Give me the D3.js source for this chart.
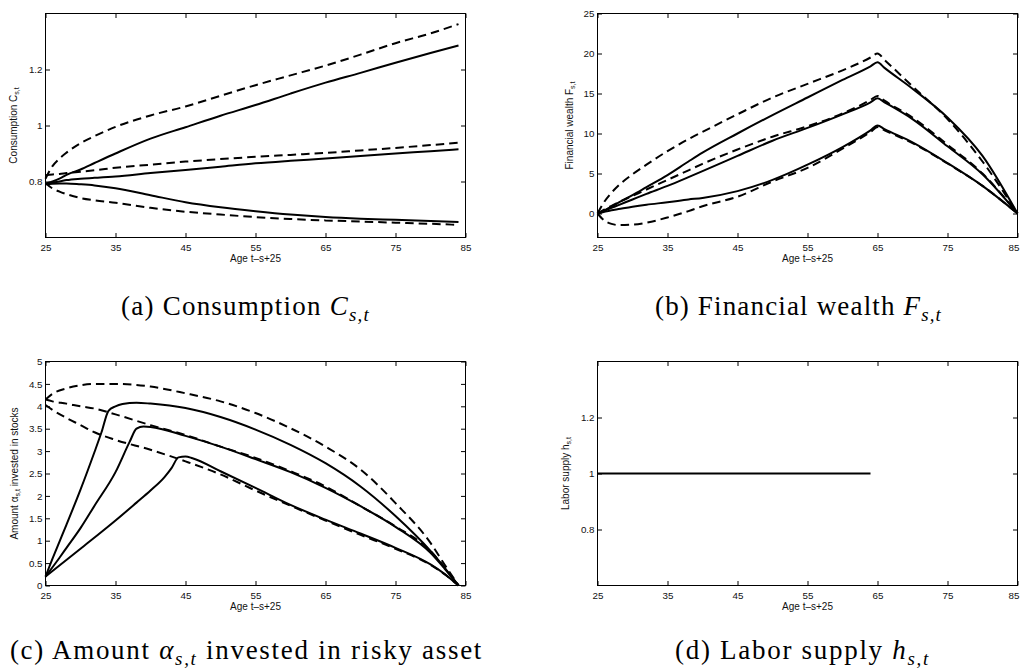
<!DOCTYPE html>
<html>
<head>
<meta charset="utf-8">
<script src="https://cdn.jsdelivr.net/npm/d3@7/dist/d3.min.js"></script>
<style>
  html, body { margin: 0; padding: 0; background: #fff; }
  svg { display: block; }
</style>
</head>
<body>
<svg id="fig" width="1021" height="669"></svg>
<script>
// ---------------- data ----------------
const ageTicks = [25, 35, 45, 55, 65, 75, 85];
const consTicks = [0.8, 1, 1.2];
const wealthTicks = [0, 5, 10, 15, 20, 25];
const stockTicks = [0, 0.5, 1, 1.5, 2, 2.5, 3, 3.5, 4, 4.5, 5];
const laborTicks = [0.8, 1, 1.2];

// (a) consumption
const consAge        = [25, 26, 27, 28, 30, 32, 35, 40, 45, 50, 55, 60, 65, 70, 75, 80, 84];
const consUpperDash  = [0.81, 0.855, 0.882, 0.903, 0.937, 0.962, 0.995, 1.036, 1.068, 1.106, 1.144, 1.179, 1.214, 1.253, 1.294, 1.329, 1.362];
const consUpperSolid = [0.792, 0.8, 0.81, 0.824, 0.843, 0.866, 0.9, 0.953, 0.994, 1.035, 1.073, 1.114, 1.153, 1.188, 1.224, 1.259, 1.286];
const consMidDash    = [0.822, 0.825, 0.827, 0.83, 0.835, 0.84, 0.849, 0.86, 0.871, 0.88, 0.888, 0.895, 0.902, 0.911, 0.92, 0.93, 0.939];
const consMidSolid   = [0.79, 0.796, 0.8, 0.805, 0.81, 0.813, 0.818, 0.83, 0.841, 0.853, 0.865, 0.874, 0.882, 0.891, 0.9, 0.908, 0.915];
const consLowSolid   = [0.79, 0.792, 0.793, 0.793, 0.79, 0.786, 0.776, 0.751, 0.726, 0.708, 0.694, 0.682, 0.673, 0.667, 0.663, 0.659, 0.655];
const consLowDash    = [0.795, 0.775, 0.764, 0.755, 0.741, 0.733, 0.724, 0.706, 0.692, 0.682, 0.673, 0.666, 0.661, 0.657, 0.653, 0.649, 0.645];

// (b) financial wealth
const wealthAge        = [25, 26, 27, 28, 30, 32, 35, 38, 40, 45, 50, 55, 60, 64, 65, 66, 70, 75, 80, 85];
const wealthUpperDash  = [0, 1.5, 2.6, 3.5, 4.9, 6.1, 7.8, 9.3, 10.2, 12.4, 14.5, 16.2, 17.9, 19.5, 20.0, 19.2, 15.9, 11.8, 6.5, 0];
const wealthUpperSolid = [0, 0.4, 0.85, 1.35, 2.3, 3.3, 4.8, 6.5, 7.6, 10.0, 12.3, 14.5, 16.7, 18.4, 18.9, 18.2, 15.6, 12.0, 7.2, 0];
const wealthMidDash    = [0, 0.5, 0.95, 1.4, 2.2, 3.0, 4.2, 5.4, 6.2, 8.0, 9.6, 10.9, 12.5, 14.2, 14.7, 14.1, 12.0, 8.6, 5.0, 0];
const wealthMidSolid   = [0, 0.35, 0.7, 1.05, 1.75, 2.45, 3.45, 4.55, 5.3, 7.2, 9.1, 10.7, 12.4, 13.9, 14.4, 13.9, 11.8, 8.4, 4.9, 0];
const wealthLowSolid   = [0, 0.2, 0.4, 0.55, 0.85, 1.1, 1.4, 1.75, 1.95, 2.8, 4.2, 6.1, 8.3, 10.4, 11.0, 10.55, 8.9, 6.3, 3.45, 0];
const wealthLowDash    = [0, -0.9, -1.3, -1.45, -1.4, -1.15, -0.5, 0.3, 0.9, 2.1, 4.0, 5.7, 8.1, 10.2, 10.8, 10.4, 8.8, 6.25, 3.45, 0];

// (c) amount invested in stocks
const stockDashAge    = [25, 26, 28, 30, 32, 35, 40, 45, 50, 55, 60, 65, 70, 75, 80, 82, 84];
const stockUpperDash  = [4.15, 4.28, 4.4, 4.47, 4.5, 4.5, 4.44, 4.29, 4.11, 3.85, 3.51, 3.1, 2.59, 1.84, 0.95, 0.47, 0];
const stockMidDash    = [4.15, 4.11, 4.06, 4.0, 3.95, 3.82, 3.58, 3.36, 3.1, 2.85, 2.55, 2.21, 1.77, 1.32, 0.77, 0.41, 0];
const stockLowDash    = [4.03, 3.92, 3.74, 3.58, 3.42, 3.25, 3.03, 2.77, 2.48, 2.12, 1.78, 1.45, 1.13, 0.82, 0.46, 0.25, 0];

const stockUpperSolidAge = [25, 26, 27, 28, 30, 32, 33, 34, 35, 36, 38, 40, 45, 50, 55, 60, 65, 70, 75, 80, 82, 84];
const stockUpperSolid    = [0.2, 0.6, 0.98, 1.36, 2.14, 2.98, 3.42, 3.9, 4.0, 4.05, 4.08, 4.06, 3.96, 3.76, 3.48, 3.14, 2.73, 2.21, 1.55, 0.77, 0.4, 0];
const stockMidSolidAge   = [25, 27, 28, 30, 32, 35, 37, 38, 39, 40, 45, 50, 55, 60, 65, 70, 75, 80, 82, 84];
const stockMidSolid      = [0.2, 0.62, 0.84, 1.28, 1.78, 2.53, 3.2, 3.5, 3.55, 3.54, 3.34, 3.1, 2.82, 2.53, 2.18, 1.77, 1.31, 0.73, 0.38, 0];
const stockLowSolidAge   = [25, 30, 35, 38, 40, 42, 43, 44, 45, 46, 50, 55, 60, 65, 70, 75, 80, 82, 84];
const stockLowSolid      = [0.2, 0.82, 1.45, 1.85, 2.12, 2.42, 2.62, 2.86, 2.88, 2.84, 2.55, 2.18, 1.8, 1.47, 1.16, 0.84, 0.47, 0.26, 0];

// (d) labor supply
const laborAge = [25, 64];
const laborSupply = [1, 1];

// ---------------- drawing ----------------
const svg = d3.select("#fig");
svg.append("rect").attr("width", 1021).attr("height", 669).attr("fill", "#fff");

const TICK_FONT = "'Liberation Sans', Arial, Helvetica, sans-serif";
const CAP_FONT = "'Liberation Serif', 'Times New Roman', serif";
const FIG_WIDTH = 1021;

function zip(xs, ys) { return xs.map((a, i) => [a, ys[i]]); }

function drawPanel(p) {
  const g = svg.append("g").attr("transform", `translate(${p.left},${p.top})`);
  const x = d3.scaleLinear().domain([25, 85]).range([0, p.width]);
  const y = d3.scaleLinear().domain(p.yDomain).range([p.height, 0]);
  const fmt = d3.format("~g");
  const tk = -4.5;

  const styleAxis = sel => {
    sel.select(".domain").remove();
    sel.selectAll(".tick line").attr("stroke", "#000").attr("stroke-width", 1);
    sel.selectAll(".tick text").attr("fill", "#111")
      .style("font-family", TICK_FONT).style("font-size", "9.8px");
  };

  const bottom = g.append("g").attr("transform", `translate(0,${p.height})`)
    .call(d3.axisBottom(x).tickValues(ageTicks).tickSize(tk).tickSizeOuter(0).tickPadding(6.5).tickFormat(d3.format("d")))
    .call(styleAxis);
  // keep the last age label inside the figure edge
  bottom.selectAll(".tick text").each(function () {
    const bb = this.getBBox();
    const tr = this.parentNode.transform.baseVal.consolidate().matrix.e;
    const rightEdge = p.left + tr + bb.x + bb.width;
    if (rightEdge > FIG_WIDTH - 1) {
      d3.select(this).attr("x", -(rightEdge - (FIG_WIDTH - 1)));
    }
  });

  g.append("g")
    .call(d3.axisTop(x).tickValues(ageTicks).tickSize(tk).tickSizeOuter(0).tickFormat(""))
    .call(styleAxis);
  g.append("g")
    .call(d3.axisLeft(y).tickValues(p.yTicks).tickSize(tk).tickSizeOuter(0).tickPadding(3).tickFormat(fmt))
    .call(styleAxis);
  g.append("g").attr("transform", `translate(${p.width},0)`)
    .call(d3.axisRight(y).tickValues(p.yTicks).tickSize(tk).tickSizeOuter(0).tickFormat(""))
    .call(styleAxis);

  const line = d3.line().x(d => x(d[0])).y(d => y(d[1])).curve(d3.curveMonotoneX);
  p.series.forEach(s => {
    g.append("path")
      .attr("d", line(zip(s.age, s.values)))
      .attr("fill", "none")
      .attr("stroke", "#000")
      .attr("stroke-width", 2)
      .attr("stroke-linejoin", "round")
      .attr("stroke-dasharray", s.dashed ? "8.5,5" : null);
  });

  g.append("rect").attr("width", p.width).attr("height", p.height)
    .attr("fill", "none").attr("stroke", "#000").attr("stroke-width", 1);

  // x label
  g.append("text")
    .attr("x", p.width / 2).attr("y", p.height + 24.5)
    .attr("text-anchor", "middle")
    .attr("fill", "#111")
    .style("font-family", TICK_FONT).style("font-size", "10px")
    .text("Age t\u2013s+25");

  // y label
  const yl = g.append("text")
    .attr("transform", `translate(${-p.ylabelOffset},${p.height / 2}) rotate(-90)`)
    .attr("text-anchor", "middle")
    .attr("fill", "#111")
    .style("font-family", TICK_FONT).style("font-size", "10px");
  addParts(yl, p.ylabel, 2.2);

  // caption
  const cap = svg.append("text")
    .attr("x", (p.capX0 + p.capX1) / 2).attr("y", p.capY)
    .attr("text-anchor", "middle")
    .attr("fill", "#000")
    .style("font-family", CAP_FONT).style("font-size", "27px");
  addParts(cap, p.caption, 5.5);
  const natural = cap.node().getComputedTextLength();
  const nChars = cap.text().length;
  cap.style("letter-spacing", (((p.capX1 - p.capX0) - natural) / nChars).toFixed(2) + "px");
}

// parts: [{t, it, sub}] ; sub parts are smaller and lowered
function addParts(textSel, parts, shift) {
  let lowered = false;
  parts.forEach(pt => {
    const ts = textSel.append("tspan").text(pt.t);
    if (pt.it) ts.style("font-style", "italic");
    if (pt.sub && !lowered) { ts.attr("dy", shift); lowered = true; }
    else if (!pt.sub && lowered) { ts.attr("dy", -shift); lowered = false; }
    if (pt.sub) ts.style("font-size", "70%");
  });
}

drawPanel({
  left: 45.5, top: 13.5, width: 420, height: 224,
  yDomain: [0.6, 1.4], yTicks: consTicks,
  ylabelOffset: 28.5,
  ylabel: [{t: "Consumption C"}, {t: "s,t", sub: true}],
  caption: [{t: "(a) Consumption "}, {t: "C", it: true}, {t: "s,t", it: true, sub: true}],
  capX0: 121, capX1: 370, capY: 315,
  series: [
    {age: consAge, values: consUpperDash, dashed: true},
    {age: consAge, values: consUpperSolid},
    {age: consAge, values: consMidDash, dashed: true},
    {age: consAge, values: consMidSolid},
    {age: consAge, values: consLowSolid},
    {age: consAge, values: consLowDash, dashed: true}
  ]
});

drawPanel({
  left: 597.5, top: 13.5, width: 420, height: 224,
  yDomain: [-3, 25], yTicks: wealthTicks,
  ylabelOffset: 24.5,
  ylabel: [{t: "Financial wealth F"}, {t: "s,t", sub: true}],
  caption: [{t: "(b) Financial wealth "}, {t: "F", it: true}, {t: "s,t", it: true, sub: true}],
  capX0: 655, capX1: 942, capY: 315,
  series: [
    {age: wealthAge, values: wealthUpperDash, dashed: true},
    {age: wealthAge, values: wealthUpperSolid},
    {age: wealthAge, values: wealthMidDash, dashed: true},
    {age: wealthAge, values: wealthMidSolid},
    {age: wealthAge, values: wealthLowSolid},
    {age: wealthAge, values: wealthLowDash, dashed: true}
  ]
});

drawPanel({
  left: 45.5, top: 361.5, width: 420, height: 224,
  yDomain: [0, 5], yTicks: stockTicks,
  ylabelOffset: 27.5,
  ylabel: [{t: "Amount \u03b1"}, {t: "s,t", sub: true}, {t: " invested in stocks"}],
  caption: [{t: "(c) Amount "}, {t: "\u03b1", it: true}, {t: "s,t", it: true, sub: true}, {t: " invested in risky asset"}],
  capX0: 10, capX1: 483, capY: 659,
  series: [
    {age: stockDashAge, values: stockUpperDash, dashed: true},
    {age: stockDashAge, values: stockMidDash, dashed: true},
    {age: stockDashAge, values: stockLowDash, dashed: true},
    {age: stockUpperSolidAge, values: stockUpperSolid},
    {age: stockMidSolidAge, values: stockMidSolid},
    {age: stockLowSolidAge, values: stockLowSolid}
  ]
});

drawPanel({
  left: 597.5, top: 361.5, width: 420, height: 224,
  yDomain: [0.6, 1.4], yTicks: laborTicks,
  ylabelOffset: 28.5,
  ylabel: [{t: "Labor supply h"}, {t: "s,t", sub: true}],
  caption: [{t: "(d) Labor supply "}, {t: "h", it: true}, {t: "s,t", it: true, sub: true}],
  capX0: 675, capX1: 930, capY: 659,
  series: [
    {age: laborAge, values: laborSupply}
  ]
});
</script>
</body>
</html>
